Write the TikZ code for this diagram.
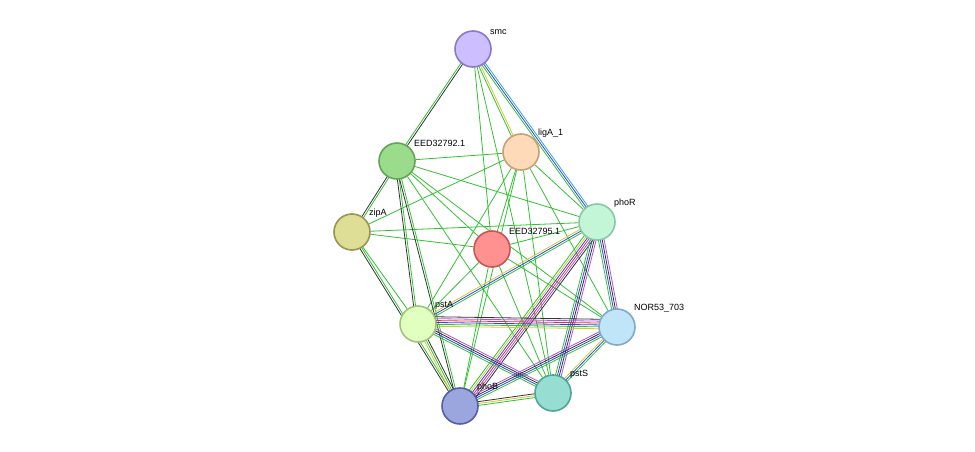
\documentclass[tikz,border=0pt]{standalone}
\usepackage{fontspec}
\setmainfont{Liberation Sans}
\usetikzlibrary{calc,backgrounds}
\definecolor{eg}{HTML}{33C033}
\definecolor{eb}{HTML}{3344DD}
\definecolor{er}{HTML}{DD3344}
\definecolor{ev}{HTML}{AA55DD}
\definecolor{ey}{HTML}{CCCC33}
\definecolor{ek}{HTML}{333333}
\definecolor{ec}{HTML}{33AADD}
\tikzset{
  prot/.style = {circle, draw, line width=1.6pt, minimum size=36pt, inner sep=0pt},
  lbl/.style  = {font=\fontsize{9}{11}\selectfont, inner sep=1pt, anchor=south west, label distance=2pt},
  link/.style = {eg, line width=0.8pt}
}
% edge made of parallel coloured lines
\newcommand\medge[3]{%
  \foreach \c [count=\i] in {#3} {
    \pgfmathsetmacro\o{(\i-1)*1.9-2}
    \draw[\c, line width=0.8pt] ($(#1.center)!\o pt!90:(#2.center)$) -- ($(#2.center)!\o pt!-90:(#1.center)$);
  }}
\begin{document}
\begin{tikzpicture}[x=1pt,y=-1pt]
\useasboundingbox (0,0) rectangle (975,452);
% proteins
\node[prot, fill={rgb,255:red,205;green,190;blue,255}, draw={rgb,255:red,140;green,120;blue,200},
  label={[lbl]40:smc}] (smc) at (473,49) {};
\node[prot, fill={rgb,255:red,255;green,218;blue,185}, draw={rgb,255:red,200;green,160;blue,120},
  label={[lbl]40:ligA\_1}] (ligA) at (521,152) {};
\node[prot, fill={rgb,255:red,155;green,220;blue,140}, draw={rgb,255:red,100;green,165;blue,85},
  label={[lbl]40:EED32792.1}] (eed92) at (397,161) {};
\node[prot, fill={rgb,255:red,222;green,222;blue,150}, draw={rgb,255:red,150;green,150;blue,80},
  label={[lbl]40:zipA}] (zipA) at (352,232) {};
\node[prot, fill={rgb,255:red,255;green,145;blue,145}, draw={rgb,255:red,200;green,85;blue,85},
  label={[lbl]40:EED32795.1}] (eed95) at (492,249) {};
\node[prot, fill={rgb,255:red,195;green,245;blue,215}, draw={rgb,255:red,135;green,200;blue,165},
  label={[lbl]40:phoR}] (phoR) at (597,222) {};
\node[prot, fill={rgb,255:red,192;green,229;blue,248}, draw={rgb,255:red,130;green,170;blue,200},
  label={[lbl]40:NOR53\_703}] (nor) at (617,327) {};
\node[prot, fill={rgb,255:red,225;green,255;blue,190}, draw={rgb,255:red,160;green,195;blue,125},
  label={[lbl]40:pstA}] (pstA) at (418,324) {};
\node[prot, fill={rgb,255:red,150;green,222;blue,210}, draw={rgb,255:red,80;green,165;blue,150},
  label={[lbl]40:pstS}] (pstS) at (553,393) {};
\node[prot, fill={rgb,255:red,155;green,165;blue,222}, draw={rgb,255:red,85;green,95;blue,160},
  label={[lbl]40:phoB}] (phoB) at (460,406) {};
\begin{pgfonlayer}{background}
% plain links
\foreach \a/\b in {smc/eed95, smc/pstS, zipA/pstA, zipA/ligA, zipA/eed95, zipA/phoR,
  eed92/ligA, eed92/phoR, eed92/eed95, eed92/pstS, eed92/nor,
  ligA/pstA, ligA/phoB, ligA/pstS, ligA/nor, ligA/phoR, ligA/eed95,
  eed95/phoR, eed95/phoB, eed95/pstS, eed95/nor, eed95/pstA}
  \draw[link] (\a) -- (\b);
% multi-evidence links
\medge{smc}{eed92}{eg,ek}
\medge{smc}{ligA}{eg,ey}
\medge{smc}{phoR}{eg,eb,ec}
\medge{zipA}{eed92}{eg,ek}
\medge{zipA}{phoB}{ek,eg}
\medge{eed92}{pstA}{ek,eg}
\medge{eed92}{phoB}{ek,eg}
\medge{phoR}{pstA}{ey,eb,eg}
\medge{phoR}{phoB}{eg,ey,eb,er,ev,ek}
\medge{phoR}{pstS}{eg,eb,ek,ev}
\medge{phoR}{nor}{eg,eb,ek,ev}
\medge{pstA}{nor}{ey,eg,eb,er,ev,ek}
\medge{pstA}{pstS}{eg,eb,ek,ev}
\medge{pstA}{phoB}{ey,eg,ek}
\medge{phoB}{nor}{eg,eb,ek,ev}
\medge{phoB}{pstS}{eg,ey,ek}
\medge{pstS}{nor}{eg,eb,ey}
\end{pgfonlayer}
\end{tikzpicture}
\end{document}
